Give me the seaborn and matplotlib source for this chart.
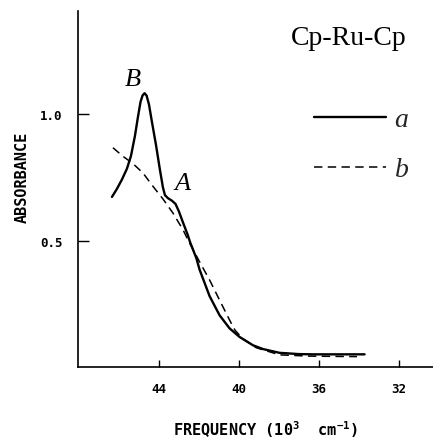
import matplotlib
matplotlib.use("Agg")
import matplotlib.pyplot as plt
import seaborn as sns
import pandas as pd
from matplotlib.lines import Line2D

# ---- data (frequency in 10^3 cm^-1, absorbance) ----
freq_a = [46.35, 46.1, 45.85, 45.6, 45.4, 45.2, 45.05, 44.92, 44.82, 44.72,
          44.62, 44.5, 44.35, 44.15, 43.95, 43.8, 43.7, 43.55, 43.35, 43.17,
          43.0, 42.8, 42.55, 42.45, 42.13, 41.97, 41.47, 40.97, 40.47, 39.97,
          39.3, 38.8, 37.97, 37.0, 36.3, 33.72]
abs_a = [0.673, 0.705, 0.742, 0.785, 0.835, 0.915, 0.99, 1.05, 1.075, 1.084,
         1.075, 1.04, 0.97, 0.88, 0.78, 0.71, 0.68, 0.668, 0.658, 0.645,
         0.615, 0.572, 0.52, 0.495, 0.43, 0.385, 0.28, 0.204, 0.152, 0.118,
         0.085, 0.07, 0.055, 0.05, 0.049, 0.049]

freq_b = [46.3, 45.8, 45.3, 44.8, 44.3, 43.8, 43.3, 42.8, 42.47, 41.97,
          41.47, 40.97, 40.47, 40.2, 39.8, 39.13, 37.97, 36.5, 34.1]
abs_b = [0.868, 0.834, 0.805, 0.768, 0.715, 0.665, 0.609, 0.543, 0.49, 0.416,
         0.344, 0.264, 0.185, 0.145, 0.11, 0.075, 0.047, 0.042, 0.040]

series_names = ["a", "b"]
x_ticks = [44, 40, 36, 32]
y_ticks = [0.5, 1.0]
y_tick_labels = ["0.5", "1.0"]
title_text = "Cp-Ru-Cp"
x_label = r"FREQUENCY (10$^{3}$  cm$^{-1}$)"
y_label = "ABSORBANCE"
peak_labels = ["B", "A"]
peak_pos = [(45.3, 1.139), (42.8, 0.73)]

df = pd.DataFrame({
    "freq": freq_a + freq_b,
    "absorbance": abs_a + abs_b,
    "series": ["a"] * len(freq_a) + ["b"] * len(freq_b),
})

sns.set_style("ticks")
plt.rcParams["mathtext.default"] = "regular"

fig = plt.figure(figsize=(4.33, 4.39), dpi=100)
ax = fig.add_axes([0.180, 0.1624, 0.82, 0.8103])

sns.lineplot(data=df, x="freq", y="absorbance", style="series",
             dashes={"a": "", "b": (5.5, 3.5)}, color="black",
             sort=False, estimator=None, ax=ax, legend=False)
lines = ax.get_lines()
lines[0].set_linewidth(1.7)
lines[1].set_linewidth(1.1)
ax.set_xlabel("")
ax.set_ylabel("")

ax.set_xlim(48.05, 30.3)
ax.set_ylim(0, 1.41)
ax.set_xticks(x_ticks)
ax.set_xticklabels([str(t) for t in x_ticks])
ax.set_yticks(y_ticks)
ax.set_yticklabels(y_tick_labels)

for s in ["top", "right"]:
    ax.spines[s].set_visible(False)
for s in ["left", "bottom"]:
    ax.spines[s].set_linewidth(1.2)
    ax.spines[s].set_color("black")

ax.tick_params(axis="x", direction="in", length=5, width=1.0, pad=11,
               labelsize=9, colors="black")
ax.tick_params(axis="y", direction="in", length=8, width=1.0, pad=11,
               labelsize=9, colors="black")
for lab in ax.get_xticklabels() + ax.get_yticklabels():
    lab.set_family("DejaVu Sans Mono")
    lab.set_fontweight("bold")

fig.text(265 / 433, 1 - 430 / 439, x_label, family="DejaVu Sans Mono",
         fontweight="bold", fontsize=11, ha="center", va="center", color="black")
fig.text(22 / 433, 1 - 177 / 439, y_label, family="DejaVu Sans Mono",
         fontweight="bold", fontsize=11, ha="center", va="center",
         rotation=90, color="black")

fig.text(407 / 433, 1 - 45 / 439, title_text, family="Liberation Serif",
         fontsize=20, ha="right", va="baseline", color="black")

for lab, (px, py) in zip(peak_labels, peak_pos):
    ax.text(px, py, lab, family="Liberation Serif", style="italic",
            fontsize=19, ha="center", va="center", color="black")

handles = [Line2D([], [], color="black", lw=1.7),
           Line2D([], [], color="black", lw=1.1, dashes=(5.5, 3.5))]
leg = ax.legend(handles, series_names, loc="upper left",
                bbox_to_anchor=(314 / 433, 1 - 108 / 439),
                bbox_transform=fig.transFigure, frameon=False,
                prop={"family": "Liberation Serif", "style": "italic", "size": 20},
                handlelength=2.6, handletextpad=0.3, labelspacing=0.88,
                borderpad=0, borderaxespad=0)

fig.savefig("out.png", dpi=100)
